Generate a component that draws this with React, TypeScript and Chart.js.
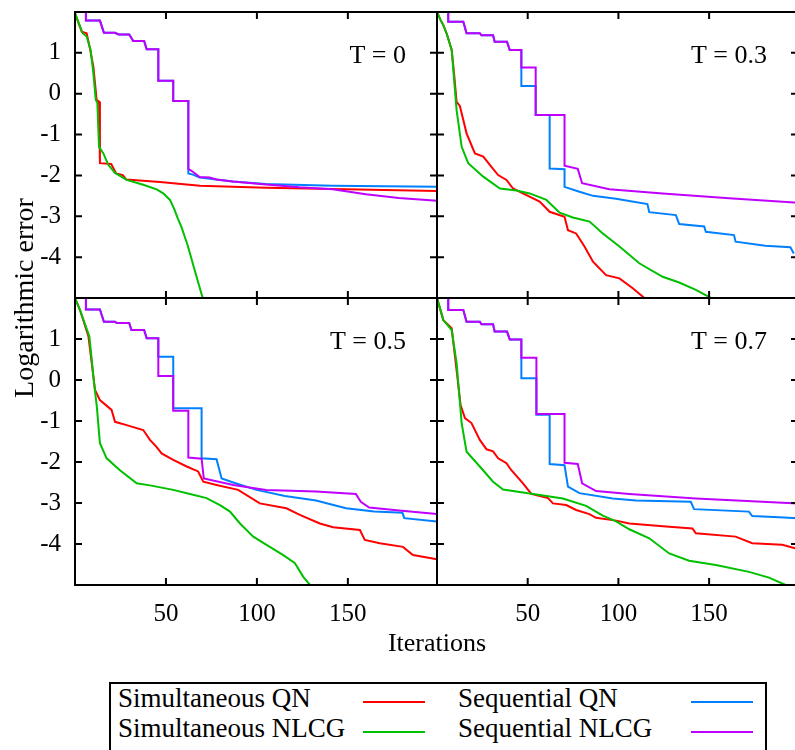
import React, { useEffect, useRef } from 'react';
import { Chart, registerables } from 'chart.js';

Chart.register(...registerables);

type Pt = [number, number];

const SERIES_LABELS = ['Simultaneous QN', 'Simultaneous NLCG', 'Sequential QN', 'Sequential NLCG'];
const SERIES_COLORS = ['#ff0000', '#00c000', '#0080ff', '#c000ff'];
const PANEL_LABELS = ['T = 0', 'T = 0.3', 'T = 0.5', 'T = 0.7'];
const X_TICKS = [50, 100, 150];
const Y_TICKS = [1, 0, -1, -2, -3, -4];
const X_MIN = 0;
const X_MAX = 199;
const Y_MIN = -5;
const Y_MAX = 2;
const X_AXIS_TITLE = 'Iterations';
const Y_AXIS_TITLE = 'Logarithmic error';

// ---- T = 0 ----
const T0_SIM_QN: Pt[] = [[0, 1.97], [3.7, 1.52], [6.4, 1.48], [8.2, 1.11], [10.1, 0.66], [11.9, -0.15], [13.2, -0.19], [13.7, -0.2], [13.7, -1.7], [19.9, -1.72], [22.6, -1.95], [26.3, -1.99], [28.2, -2.1], [46.7, -2.16], [68.7, -2.25], [105, -2.3], [141.6, -2.33], [199, -2.38]];
const T0_SIM_NLCG: Pt[] = [[0, 1.97], [1.8, 1.76], [4.2, 1.48], [6.4, 1.4], [8.6, 1.07], [10.1, 0.5], [11.4, -0.15], [12.3, -0.23], [13.2, -1.3], [15.6, -1.46], [18.3, -1.74], [22, -1.94], [28.4, -2.11], [37.5, -2.23], [44.9, -2.34], [48.5, -2.44], [52.2, -2.6], [54.5, -2.82], [56.5, -3.05], [58.6, -3.27], [62, -3.72], [66, -4.35], [70.2, -5.0]];
const T0_SEQ_QN: Pt[] = [[6, 2.0], [6, 1.79], [13.7, 1.79], [15.9, 1.49], [22, 1.49], [24, 1.45], [29.8, 1.45], [32, 1.29], [38, 1.29], [39.4, 1.09], [45.8, 1.09], [45.8, 0.32], [54, 0.32], [54, -0.18], [62.3, -0.18], [62.3, -1.95], [64.8, -1.98], [68.5, -2.05], [77.7, -2.1], [86.8, -2.15], [105, -2.21], [141.6, -2.25], [199, -2.28]];
const T0_SEQ_NLCG: Pt[] = [[6, 2.0], [6, 1.79], [13.7, 1.79], [15.9, 1.49], [22, 1.49], [24, 1.45], [29.8, 1.45], [32, 1.29], [38, 1.29], [39.4, 1.09], [45.8, 1.09], [45.8, 0.32], [54, 0.32], [54, -0.18], [62.3, -0.18], [62.3, -1.84], [64.8, -1.91], [68.5, -2.04], [74, -2.05], [77.7, -2.1], [86.8, -2.15], [105, -2.22], [123.3, -2.29], [141.6, -2.34], [159.9, -2.46], [178, -2.55], [199, -2.62]];

// ---- T = 0.3 ----
const T03_SIM_QN: Pt[] = [[0, 2.0], [2, 1.8], [3.5, 1.68], [5.5, 1.45], [8.1, 1.07], [9.5, 0.45], [10.8, -0.2], [12.6, -0.3], [16.3, -0.97], [20.9, -1.46], [25.5, -1.54], [30, -1.79], [33.7, -1.99], [38.3, -2.11], [41.9, -2.32], [49.3, -2.48], [56.6, -2.64], [62.1, -2.89], [70.3, -3.01], [72.2, -3.34], [76.7, -3.42], [81.3, -3.74], [86, -4.11], [93.2, -4.44], [100.6, -4.52], [107.9, -4.76], [114.3, -5.0]];
const T03_SIM_NLCG: Pt[] = [[0, 2.0], [2, 1.8], [3.5, 1.68], [5.5, 1.45], [8.1, 1.07], [10.8, -0.4], [13.6, -1.3], [17.2, -1.7], [25.5, -2.03], [34.7, -2.32], [43.8, -2.37], [51.1, -2.44], [60.3, -2.6], [67.6, -2.91], [74.9, -3.03], [84.1, -3.13], [91.4, -3.42], [100.6, -3.74], [111.5, -4.15], [124.4, -4.48], [133.5, -4.62], [142.7, -4.8], [151, -5.0]];
const T03_SEQ_QN: Pt[] = [[6.2, 2.0], [6.2, 1.76], [14.5, 1.76], [16.3, 1.48], [23.6, 1.48], [24.5, 1.43], [30.9, 1.43], [31.8, 1.27], [38.6, 1.27], [40.1, 1.07], [46.5, 1.07], [46.5, 0.19], [54.4, 0.19], [54.4, -0.52], [62.1, -0.52], [62.1, -1.83], [70.3, -1.85], [70.3, -2.28], [78.5, -2.4], [86, -2.5], [98.7, -2.57], [116, -2.7], [117, -2.9], [131.7, -2.97], [133.5, -3.19], [147.3, -3.25], [148.2, -3.38], [163.7, -3.46], [164.6, -3.62], [181, -3.72], [194.8, -3.76], [196.7, -3.91]];
const T03_SEQ_NLCG: Pt[] = [[6.2, 2.0], [6.2, 1.76], [14.5, 1.76], [16.3, 1.48], [23.6, 1.48], [24.5, 1.43], [30.9, 1.43], [31.8, 1.27], [38.6, 1.27], [40.1, 1.07], [46.5, 1.07], [46.5, 0.64], [54.4, 0.64], [54.4, -0.52], [70.3, -0.52], [70.3, -1.76], [77.6, -1.84], [80, -2.19], [95, -2.34], [124.4, -2.44], [161, -2.56], [199, -2.67]];

// ---- T = 0.5 ----
const T05_SIM_QN: Pt[] = [[0, 2.0], [2.8, 1.7], [7.4, 1.06], [11, -0.24], [13.7, -0.49], [20.1, -0.73], [22, -1.02], [28.4, -1.1], [37.5, -1.22], [41.2, -1.46], [44.8, -1.63], [47.6, -1.79], [54, -1.95], [61.4, -2.11], [67.7, -2.23], [70.5, -2.48], [77.8, -2.56], [89.7, -2.68], [101.6, -3.01], [116.2, -3.13], [123.6, -3.29], [134.6, -3.5], [141.9, -3.59], [156.6, -3.66], [159.3, -3.9], [167.5, -3.98], [180.3, -4.07], [185.8, -4.27], [199, -4.37]];
const T05_SIM_NLCG: Pt[] = [[0, 2.0], [2.8, 1.7], [7.9, 1.06], [10.5, -0.08], [12, -0.65], [13.7, -1.54], [17.4, -1.91], [24.7, -2.2], [33.9, -2.52], [41.2, -2.57], [54, -2.68], [63.2, -2.78], [72.3, -2.88], [79.7, -3.05], [85.2, -3.21], [90.7, -3.5], [98, -3.82], [105.3, -4.02], [114.5, -4.27], [120.9, -4.47], [125.5, -4.8], [129.2, -5.0]];
const T05_SEQ_QN: Pt[] = [[6, 2.0], [6, 1.72], [13.7, 1.72], [15.9, 1.42], [22, 1.42], [23, 1.39], [29.8, 1.39], [31, 1.22], [38, 1.22], [39.4, 1.02], [45.8, 1.02], [45.8, 0.57], [54, 0.57], [54, -0.69], [69.6, -0.69], [69.6, -1.91], [77.8, -1.93], [80.6, -2.4], [87, -2.5], [99.8, -2.68], [115.4, -2.83], [132.5, -2.94], [149, -3.13], [164.5, -3.21], [180, -3.24], [181, -3.37], [199, -3.45]];
const T05_SEQ_NLCG: Pt[] = [[6, 2.0], [6, 1.72], [13.7, 1.72], [15.9, 1.42], [22, 1.42], [23, 1.39], [29.8, 1.39], [31, 1.22], [38, 1.22], [39.4, 1.02], [45.8, 1.02], [45.8, 0.1], [54, 0.1], [54, -0.75], [62.3, -0.75], [62.3, -1.89], [69.6, -1.92], [70.8, -2.4], [87, -2.56], [105, -2.68], [132.5, -2.72], [154.4, -2.78], [157.1, -2.97], [161.7, -3.11], [178.2, -3.18], [199, -3.27]];

// ---- T = 0.7 ----
const T07_SIM_QN: Pt[] = [[0, 2.0], [3.5, 1.46], [8.1, 1.26], [10.8, 0.24], [13, -0.61], [15.4, -0.93], [19, -1.05], [23.6, -1.46], [27.3, -1.69], [30.9, -1.74], [33.7, -1.91], [38.3, -2.03], [41, -2.2], [47.4, -2.52], [52, -2.78], [61.2, -2.88], [63.9, -3.01], [71.2, -3.05], [76.7, -3.17], [84, -3.27], [87.7, -3.36], [98.7, -3.43], [106, -3.5], [128, -3.58], [140.8, -3.62], [142.7, -3.74], [164.6, -3.82], [173.8, -3.98], [190.3, -4.02], [199, -4.12]];
const T07_SIM_NLCG: Pt[] = [[0, 2.0], [3.5, 1.46], [8.1, 1.22], [10.8, 0.41], [13.6, -1.06], [16.3, -1.75], [23.6, -2.11], [30.9, -2.48], [36.4, -2.67], [51.1, -2.77], [69.4, -2.89], [82.2, -3.07], [91.4, -3.31], [98.7, -3.45], [106, -3.64], [117, -3.86], [128, -4.23], [139, -4.41], [153.7, -4.51], [172, -4.68], [183, -4.82], [192.2, -5.0]];
const T07_SEQ_QN: Pt[] = [[6.2, 2.0], [6.2, 1.71], [14.5, 1.71], [16.3, 1.42], [23.6, 1.42], [24.5, 1.36], [30.9, 1.36], [31.8, 1.18], [38.6, 1.18], [40.1, 0.99], [46.5, 0.99], [46.5, 0.04], [54.8, 0.04], [54.8, -0.85], [62.1, -0.85], [62.1, -2.05], [70.3, -2.08], [72.2, -2.6], [78.5, -2.76], [96.9, -2.89], [109.7, -2.94], [139.9, -2.97], [141.7, -3.15], [171.9, -3.21], [173.8, -3.32], [188.5, -3.35], [199, -3.37]];
const T07_SEQ_NLCG: Pt[] = [[6.2, 2.0], [6.2, 1.71], [14.5, 1.71], [16.3, 1.42], [23.6, 1.42], [24.5, 1.36], [30.9, 1.36], [31.8, 1.18], [38.6, 1.18], [40.1, 0.99], [46.5, 0.99], [46.5, 0.54], [54.8, 0.54], [54.8, -0.83], [70.3, -0.83], [70.3, -2.02], [77.6, -2.05], [80, -2.52], [87.7, -2.71], [106, -2.78], [142.7, -2.89], [179.3, -2.97], [199, -3.01]];

const PANEL_SERIES: Pt[][][] = [
  [T0_SIM_QN, T0_SIM_NLCG, T0_SEQ_QN, T0_SEQ_NLCG],
  [T03_SIM_QN, T03_SIM_NLCG, T03_SEQ_QN, T03_SEQ_NLCG],
  [T05_SIM_QN, T05_SIM_NLCG, T05_SEQ_QN, T05_SEQ_NLCG],
  [T07_SIM_QN, T07_SIM_NLCG, T07_SEQ_QN, T07_SEQ_NLCG],
];

const CANVAS_FAMILY = "'Liberation Serif', 'Times New Roman', serif";
const HTML_FONT = '"Liberation Serif", "Times New Roman", Times, serif';

Chart.defaults.font.family = CANVAS_FAMILY;

// layout of the four panels (canvas boxes + padding so the plot areas tile)
const PANEL_BOXES = [
  { left: 0, top: 0, w: 445, h: 306, pad: { left: 0, top: 12, right: 8, bottom: 8 }, showY: true, showX: false },
  { left: 430, top: 0, w: 376, h: 306, pad: { left: 7, top: 12, right: 8, bottom: 8 }, showY: false, showX: false },
  { left: 0, top: 290, w: 445, h: 360, pad: { left: 0, top: 8, right: 8, bottom: 25 }, showY: true, showX: true },
  { left: 430, top: 290, w: 376, h: 360, pad: { left: 7, top: 8, right: 8, bottom: 25 }, showY: false, showX: true },
];

const framePlugin = {
  id: 'panelFrame',
  afterDatasetsDraw(chart: any, _args: any, opts: any) {
    const { ctx, chartArea: a, scales } = chart;
    ctx.save();
    ctx.strokeStyle = '#000';
    ctx.lineWidth = 2;
    ctx.strokeRect(a.left, a.top, a.right - a.left, a.bottom - a.top);
    ctx.beginPath();
    X_TICKS.forEach((v) => {
      const x = scales.x.getPixelForValue(v);
      ctx.moveTo(x, a.bottom);
      ctx.lineTo(x, a.bottom - 7);
      ctx.moveTo(x, a.top);
      ctx.lineTo(x, a.top + 7);
    });
    Y_TICKS.forEach((v) => {
      const y = scales.y.getPixelForValue(v);
      ctx.moveTo(a.left, y);
      ctx.lineTo(a.left + 7, y);
      ctx.moveTo(a.right, y);
      ctx.lineTo(a.right - 7, y);
    });
    ctx.stroke();
    ctx.fillStyle = '#000';
    ctx.font = `26px ${CANVAS_FAMILY}`;
    ctx.textAlign = 'right';
    ctx.textBaseline = 'alphabetic';
    ctx.fillText(opts.text, a.right - 31, a.top + 50.5);
    ctx.restore();
  },
};

function makeConfig(index: number): any {
  const box = PANEL_BOXES[index];
  const series = PANEL_SERIES[index];
  const tickFont = { family: CANVAS_FAMILY, size: 25 };
  const xScale: any = {
    type: 'linear',
    min: X_MIN,
    max: X_MAX,
    display: box.showX,
    afterBuildTicks: (s: any) => {
      s.ticks = X_TICKS.map((v) => ({ value: v }));
    },
    grid: { display: false, drawTicks: false },
    border: { display: false },
    ticks: { padding: 14, font: tickFont, color: '#000', maxRotation: 0, autoSkip: false, callback: (v: any) => String(v) },
  };
  if (box.showX) {
    xScale.afterFit = (s: any) => {
      s.height = 40;
      s.paddingLeft = 0;
      s.paddingRight = 0;
    };
  }
  const yScale: any = {
    type: 'linear',
    min: Y_MIN,
    max: Y_MAX,
    display: box.showY,
    afterBuildTicks: (s: any) => {
      s.ticks = Y_TICKS.map((v) => ({ value: v }));
    },
    grid: { display: false, drawTicks: false },
    border: { display: false },
    ticks: { padding: 14, font: tickFont, color: '#000', autoSkip: false, callback: (v: any) => String(v) },
  };
  if (box.showY) {
    yScale.afterFit = (s: any) => {
      s.width = 75;
      s.paddingTop = 0;
      s.paddingBottom = 0;
    };
  }
  return {
    type: 'line',
    data: {
      datasets: series.map((pts, i) => ({
        label: SERIES_LABELS[i],
        data: pts.map(([x, y]) => ({ x, y })),
        borderColor: SERIES_COLORS[i],
        backgroundColor: SERIES_COLORS[i],
        borderWidth: 2,
        pointRadius: 0,
        tension: 0,
        fill: false,
        order: 3 - i,
      })),
    },
    options: {
      responsive: false,
      animation: false,
      devicePixelRatio: 1,
      layout: { padding: box.pad },
      scales: { x: xScale, y: yScale },
      plugins: {
        legend: { display: false },
        tooltip: { enabled: false },
        title: { display: false },
        panelFrame: { text: PANEL_LABELS[index] },
      },
    },
    plugins: [framePlugin],
  };
}

export default function App() {
  const refs = [useRef<HTMLCanvasElement>(null), useRef<HTMLCanvasElement>(null), useRef<HTMLCanvasElement>(null), useRef<HTMLCanvasElement>(null)];

  useEffect(() => {
    const charts = refs.map((r, i) => new Chart(r.current as HTMLCanvasElement, makeConfig(i)));
    let alive = true;
    const redraw = () => {
      if (alive) charts.forEach((c) => c.update());
    };
    const fonts = (document as any).fonts;
    if (fonts && fonts.ready) fonts.ready.then(redraw, redraw);
    return () => {
      alive = false;
      charts.forEach((c) => c.destroy());
    };
  }, []);

  const legendCol = (i: number) => Math.floor(i / 2);
  const legendRow = (i: number) => i % 2;

  return (
    <div style={{ position: 'absolute', left: 0, top: 0, width: 795, height: 750, overflow: 'hidden', background: '#fff', fontFamily: HTML_FONT, color: '#000' }}>
      {PANEL_BOXES.map((b, i) => (
        <canvas
          key={i}
          ref={refs[i]}
          width={b.w}
          height={b.h}
          style={{ position: 'absolute', left: b.left, top: b.top, width: b.w, height: b.h, display: 'block' }}
        />
      ))}
      <div
        style={{
          position: 'absolute', left: 24 - 150, top: 298 - 14, width: 300, height: 28,
          fontSize: 28, lineHeight: '28px', textAlign: 'center', whiteSpace: 'nowrap',
          transform: 'rotate(-90deg)',
        }}
      >
        {Y_AXIS_TITLE}
      </div>
      <div style={{ position: 'absolute', left: 337, top: 630, width: 200, fontSize: 26, lineHeight: '26px', textAlign: 'center', whiteSpace: 'nowrap' }}>
        {X_AXIS_TITLE}
      </div>
      <div style={{ position: 'absolute', left: 109, top: 682, width: 658, height: 100, border: '2px solid #000', boxSizing: 'border-box' }} />
      {SERIES_LABELS.map((lab, i) => (
        <React.Fragment key={lab}>
          <div style={{ position: 'absolute', left: 118 + legendCol(i) * 340, top: 684.5 + legendRow(i) * 30, fontSize: 27, lineHeight: '27px', whiteSpace: 'nowrap' }}>
            {lab}
          </div>
          <div style={{ position: 'absolute', left: 363 + legendCol(i) * 328, top: 701 + legendRow(i) * 30, width: 62, height: 2, background: SERIES_COLORS[i] }} />
        </React.Fragment>
      ))}
    </div>
  );
}
